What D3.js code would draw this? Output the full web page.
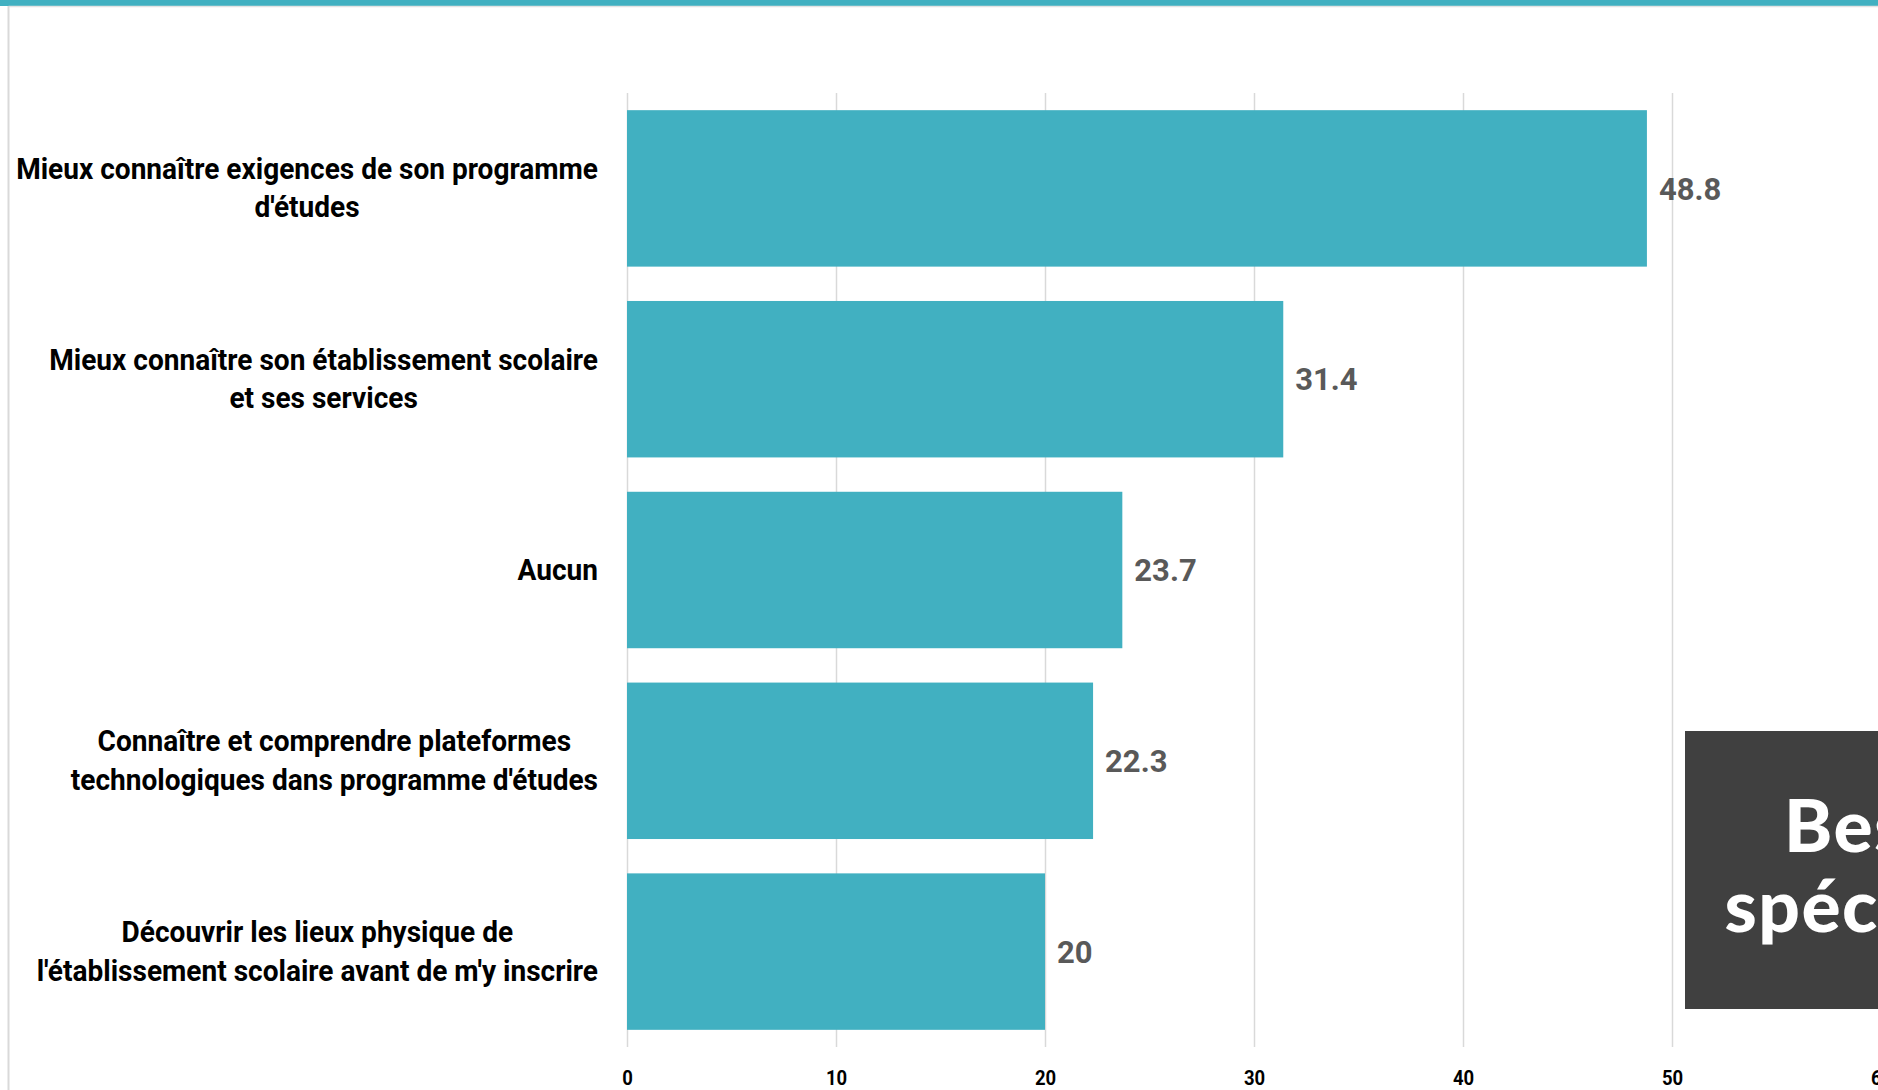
<!DOCTYPE html>
<html>
<head>
<meta charset="utf-8">
<script src="https://cdn.jsdelivr.net/npm/d3@7"></script>
<style>
  html, body { margin: 0; padding: 0; background: #ffffff; overflow: hidden; }
  svg { display: block; }
</style>
</head>
<body>
<svg id="chart" width="1878" height="1090"></svg>
<script>
// ---- data ----
const categories = [
  ["Mieux connaître exigences de son programme", "d'études"],
  ["Mieux connaître son établissement scolaire", "et ses services"],
  ["Aucun"],
  ["Connaître et comprendre plateformes", "technologiques dans programme d'études"],
  ["Découvrir les lieux physique de", "l'établissement scolaire avant de m'y inscrire"]
];
const values = [48.8, 31.4, 23.7, 22.3, 20];
const tickValues = [0, 10, 20, 30, 40, 50, 60];
const titleLines = ["Besoins", "spécifiques"];

// ---- layout ----
const W = 1878, H = 1090;
const teal = "#41B0C1";
const grid = "#D9D9D9";
const labelFont = "Roboto, 'Noto Sans', sans-serif";

const svg = d3.select("#chart");

// frame
svg.append("rect").attr("x", 0).attr("y", 0).attr("width", W).attr("height", 6).attr("fill", teal);
svg.append("line").attr("x1", 8.5).attr("x2", W).attr("y1", 6.5).attr("y2", 6.5)
  .attr("stroke", "#E3E3E3").attr("stroke-width", 1.5);
svg.append("line").attr("x1", 8.5).attr("x2", 8.5).attr("y1", 6).attr("y2", H)
  .attr("stroke", grid).attr("stroke-width", 2);

const x = d3.scaleLinear().domain([0, 60]).range([627, 1881]);
const y = d3.scaleBand().domain(d3.range(categories.length)).range([93, 1047])
  .paddingInner(0.18).paddingOuter(0.09);

// gridlines
const gridAxis = d3.axisBottom(x).tickValues(tickValues).tickSize(-(1047 - 93)).tickFormat("");
const gg = svg.append("g").attr("transform", "translate(0,1047)").call(gridAxis);
gg.select(".domain").remove();
gg.selectAll(".tick line").attr("stroke", grid).attr("stroke-width", 1.5);

// bars
svg.append("g").selectAll("rect").data(values).join("rect")
  .attr("x", x(0))
  .attr("y", (d, i) => y(i))
  .attr("width", d => x(d) - x(0))
  .attr("height", y.bandwidth())
  .attr("fill", teal);

// value labels
svg.append("g").selectAll("text").data(values).join("text")
  .attr("x", d => x(d) + 12)
  .attr("y", (d, i) => y(i) + y.bandwidth() / 2)
  .attr("dy", "0.36em")
  .attr("fill", "#595959")
  .attr("font-family", "Roboto, sans-serif")
  .attr("font-weight", 700)
  .attr("font-size", 31)
  .text(d => d3.format("")(d));

// x tick labels (condensed look)
const xAxis = d3.axisBottom(x).tickValues(tickValues).tickSize(0).tickPadding(0);
const xg = svg.append("g").attr("transform", "translate(0,1077)").call(xAxis);
xg.select(".domain").remove();
xg.selectAll(".tick text")
  .attr("dy", "0.36em")
  .attr("fill", "#000")
  .attr("font-family", labelFont)
  .attr("font-weight", 700)
  .attr("font-size", 21)
  .attr("transform", "scale(0.88,1)");

// category labels: condensed via horizontal scale around right edge
const labelRight = 598;
const condense = 0.935;
const lineH = 38.5;
const lg = svg.append("g")
  .attr("transform", `translate(${labelRight},0) scale(${condense},1)`);
categories.forEach((lines, i) => {
  const t = lg.append("text")
    .attr("font-family", labelFont)
    .attr("font-weight", 700)
    .attr("font-size", 30)
    .attr("fill", "#000")
    .attr("text-anchor", "middle");
  const cy = y(i) + y.bandwidth() / 2 - 1;
  const spans = lines.map((s, k) => t.append("tspan")
    .attr("y", cy + (k - (lines.length - 1) / 2) * lineH)
    .attr("dy", "0.36em")
    .text(s));
  const maxW = d3.max(spans, sp => sp.node().getComputedTextLength());
  spans.forEach(sp => sp.attr("x", -maxW / 2));
});

// dark title box (clipped by page edge)
svg.append("rect").attr("x", 1685).attr("y", 731).attr("width", 600).attr("height", 278)
  .attr("fill", "#404040");
const tt = svg.append("text")
  .attr("font-family", "Lato, sans-serif")
  .attr("font-weight", 900)
  .attr("font-size", 73)
  .attr("letter-spacing", 1.5)
  .attr("fill", "#ffffff")
  .attr("text-anchor", "middle");
const tsp = titleLines.map((s, k) => tt.append("tspan").attr("y", 852 + k * 80).text(s));
const w0 = tsp[0].node().getComputedTextLength();
tsp.forEach(sp => sp.attr("x", 1784 + w0 / 2));
</script>
</body>
</html>
